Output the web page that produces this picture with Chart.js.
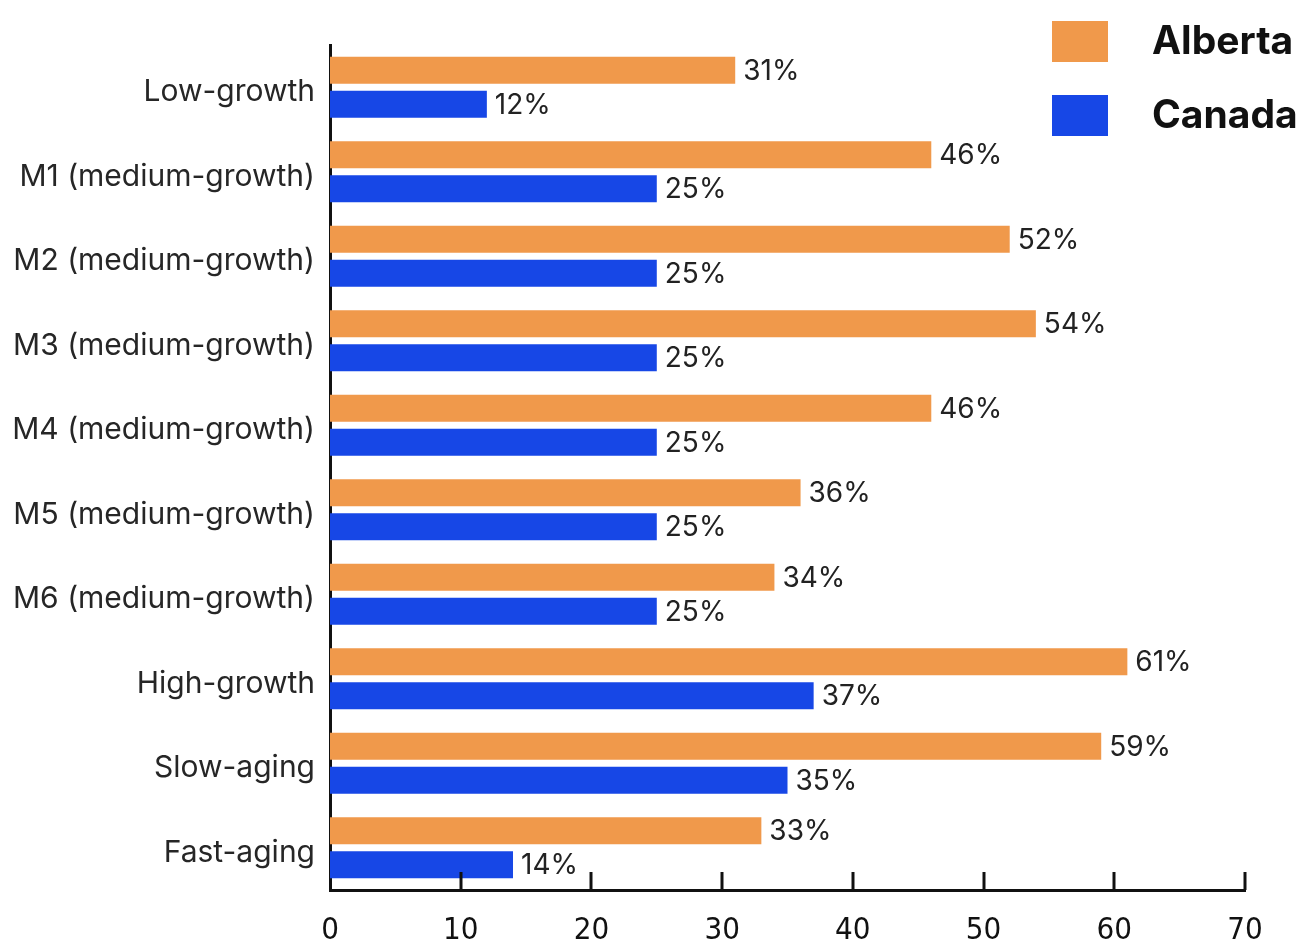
<!DOCTYPE html>
<html>
<head>
<meta charset="utf-8">
<script src="https://cdn.jsdelivr.net/npm/chart.js@4"></script>
<style>
	html, body { margin: 0; padding: 0; background: #fff; }
	#wrap { width: 1303px; height: 943px; position: relative; }
</style>
</head>
<body>
<div id="wrap"><canvas id="growth"></canvas></div>
<script>
const CATEGORIES = [
	'Low-growth',
	'M1 (medium-growth)',
	'M2 (medium-growth)',
	'M3 (medium-growth)',
	'M4 (medium-growth)',
	'M5 (medium-growth)',
	'M6 (medium-growth)',
	'High-growth',
	'Slow-aging',
	'Fast-aging'
]

const ALBERTA = [31, 46, 52, 54, 46, 36, 34, 61, 59, 33]
const CANADA = [12, 25, 25, 25, 25, 25, 25, 37, 35, 14]

const X_TICKS = [0, 10, 20, 30, 40, 50, 60, 70]

const ORANGE = '#F0994B'
const BLUE = '#1747E6'

// value labels at the end of each bar
const valueLabels = {
	id: 'valueLabels',
	afterDatasetsDraw(chart) {
		const ctx = chart.ctx
		ctx.save()
		ctx.font = '28px Inter'
		ctx.fillStyle = '#222'
		ctx.textBaseline = 'middle'
		ctx.textAlign = 'left'
		chart.data.datasets.forEach((ds, i) => {
			chart.getDatasetMeta(i).data.forEach((bar, j) => {
				ctx.fillText(ds.data[j] + '%', bar.x + 8, bar.y + 1)
			})
		})
		ctx.restore()
	}
}

// ticks pointing up into the plot, over the bars
const innerTicks = {
	id: 'innerTicks',
	afterDatasetsDraw(chart) {
		const ctx = chart.ctx
		const x = chart.scales.x
		const bottom = chart.chartArea.bottom
		ctx.save()
		ctx.strokeStyle = '#111'
		ctx.lineWidth = 3
		X_TICKS.forEach(v => {
			if (v === 0) return
			const px = Math.round(x.getPixelForValue(v))
			ctx.beginPath()
			ctx.moveTo(px, bottom)
			ctx.lineTo(px, bottom - 18)
			ctx.stroke()
		})
		ctx.restore()
	}
}

// legend in the top right corner
const cornerLegend = {
	id: 'cornerLegend',
	afterDraw(chart) {
		const ctx = chart.ctx
		ctx.save()
		ctx.font = 'bold 39px Inter'
		ctx.textBaseline = 'middle'
		chart.data.datasets.forEach((ds, i) => {
			const top = 21 + i * 74
			ctx.fillStyle = ds.backgroundColor
			ctx.fillRect(1052, top, 56, 41)
			ctx.fillStyle = '#111'
			ctx.fillText(ds.label, 1152, top + 21)
		})
		ctx.restore()
	}
}

const data_growth = {
	labels: CATEGORIES,
	datasets: [
		{
			label: 'Alberta',
			data: ALBERTA,
			backgroundColor: ORANGE,
			borderWidth: 0,
			categoryPercentage: 0.805,
			barPercentage: 0.794,
		},
		{
			label: 'Canada',
			data: CANADA,
			backgroundColor: BLUE,
			borderWidth: 0,
			categoryPercentage: 0.805,
			barPercentage: 0.794,
		},
	]
}

const config_growth = {
	type: 'bar',
	data: data_growth,
	options: {
		indexAxis: 'y',
		responsive: true,
		maintainAspectRatio: false,
		animation: false,
		layout: {
			padding: { top: 45, right: 58, left: 0, bottom: 0 }
		},
		plugins: {
			legend: { display: false },
			title: { display: false },
			tooltip: { enabled: false }
		},
		scales: {
			x: {
				min: 0,
				max: 70,
				afterBuildTicks(scale) {
					scale.ticks = X_TICKS.map(v => ({ value: v }))
				},
				afterFit(scale) {
					scale.height = 53
				},
				ticks: {
					color: '#111',
					padding: 22,
					maxRotation: 0,
					font: { family: "'Liberation Sans Narrow', 'DejaVu Sans Condensed', Inter, sans-serif", size: 31 }
				},
				grid: {
					display: false,
					drawTicks: false
				},
				border: {
					display: true,
					color: '#111',
					width: 3
				}
			},
			y: {
				afterFit(scale) {
					scale.width = 330
				},
				ticks: {
					color: '#262626',
					padding: 15,
					labelOffset: 5,
					font: { family: 'Inter', size: 30 }
				},
				grid: {
					display: false,
					drawTicks: false
				},
				border: {
					display: true,
					color: '#111',
					width: 3
				}
			}
		}
	},
	plugins: [valueLabels, innerTicks, cornerLegend]
}

const growth = new Chart(
	document.getElementById('growth'),
	config_growth
)
</script>
</body>
</html>
